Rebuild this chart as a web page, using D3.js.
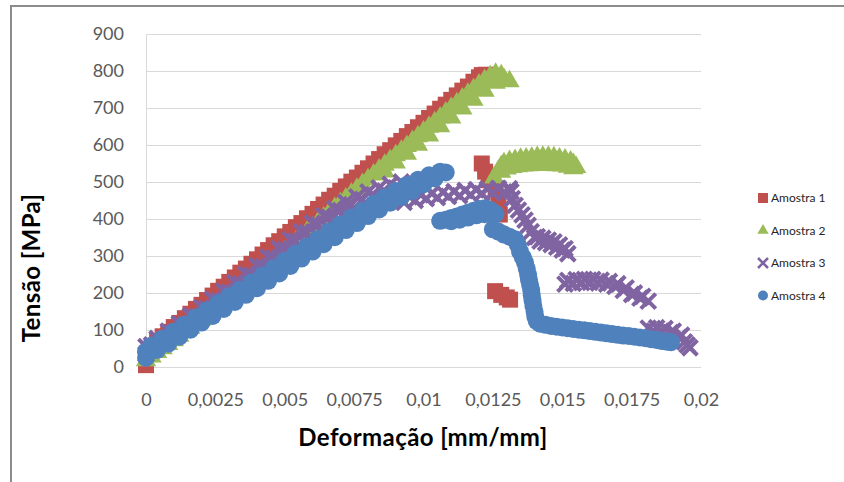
<!DOCTYPE html>
<html>
<head>
<meta charset="utf-8">
<script src="https://cdn.jsdelivr.net/npm/d3@7"></script>
<style>
  body { margin: 0; background: #fff; }
  svg { display: block; }
</style>
</head>
<body>
<svg id="chart" width="844" height="482"></svg>
<script>
// Tensile test: stress (MPa) against strain (mm/mm) for four specimens
const seriesNames = ["Amostra 1", "Amostra 2", "Amostra 3", "Amostra 4"];
const seriesColors = ["#C0504D", "#9BBB59", "#8064A2", "#4F81BD"];
const seriesSymbols = ["square", "triangle", "cross", "circle"];

const xTicks = [0, 0.0025, 0.005, 0.0075, 0.01, 0.0125, 0.015, 0.0175, 0.02];
const xTickLabels = ["0", "0,0025", "0,005", "0,0075", "0,01", "0,0125", "0,015", "0,0175", "0,02"];
const yTicks = [0, 100, 200, 300, 400, 500, 600, 700, 800, 900];

// readings as [strain, stress]
const amostra1 = [
  [0,5],[0,30],[0.0002,52],[0.0004,70],[0.0006,83],[0.0008,95],[0.001,108],[0.0012,119],
  [0.0014,132],[0.0016,144],[0.0018,157],[0.002,168],[0.0022,181],[0.0024,193],[0.0026,206],
  [0.0028,217],[0.003,230],[0.0032,242],[0.0034,255],[0.0036,266],[0.0038,279],[0.004,291],
  [0.0042,304],[0.0044,316],[0.0046,329],[0.0048,340],[0.005,353],[0.0052,365],[0.0054,378],
  [0.0056,389],[0.0058,402],[0.006,414],[0.0062,427],[0.0064,439],[0.0066,452],[0.0068,463],
  [0.007,476],[0.0072,488],[0.0074,501],[0.0076,512],[0.0078,525],[0.008,537],[0.0082,550],
  [0.0084,562],[0.0086,575],[0.0088,586],[0.009,599],[0.0092,611],[0.0094,624],[0.0096,635],
  [0.0098,648],[0.01,660],[0.0102,673],[0.0104,685],[0.0106,698],[0.0108,709],[0.011,722],
  [0.0112,734],[0.0114,747],[0.0116,758],[0.0118,771],[0.012,783],[0.0121,789],[0.01225,790],
  [0.0121,550],[0.01222,528],[0.01235,505],[0.0126,482],[0.0127,452],[0.01272,425],[0.01275,412],
  [0.01258,205],[0.0128,195],[0.013,188],[0.01312,182]
];

const amostra2 = [
  [0,18],[0.0002,28],[0.0004,40],[0.0006,50],[0.0008,62],[0.001,72],[0.0012,84],[0.0014,95],
  [0.0016,106],[0.0018,117],[0.002,128],[0.0022,140],[0.0024,151],[0.0026,163],[0.0028,175],
  [0.003,187],[0.0032,199],[0.0034,211],[0.0036,224],[0.0038,236],[0.004,249],[0.0042,261],
  [0.0044,274],[0.0046,287],[0.0048,300],[0.005,312],[0.0052,325],[0.0054,338],[0.0056,351],
  [0.0058,364],[0.006,377],[0.0062,390],[0.0064,403],[0.0066,416],[0.0068,429],[0.007,442],
  [0.0072,455],[0.0074,468],[0.0076,481],[0.0078,494],[0.008,507],[0.0082,520],[0.0084,533],
  [0.0086,546],[0.0088,559],[0.009,572],[0.0092,584],[0.0094,597],[0.0096,610],[0.0098,623],
  [0.01,636],[0.0102,649],[0.0104,661],[0.0106,674],[0.0108,687],[0.011,700],[0.0112,712],
  [0.0114,725],[0.0116,738],[0.0118,750],[0.012,763],[0.0122,775],[0.0124,785],[0.0126,792],
  [0.0128,788],
  [0.0086,528],[0.009,552],[0.0094,576],[0.0098,600],[0.0102,625],[0.0106,650],[0.011,674],
  [0.0114,698],[0.0118,722],[0.0122,746],[0.0126,768],[0.0129,778],[0.0131,772],
  [0.01255,512],[0.0127,530],[0.0128,542],[0.0129,550],[0.0131,556],[0.0133,559],[0.0135,562],
  [0.0137,563],[0.0139,565],[0.0141,567],[0.0143,568],[0.0145,568],[0.0147,566],[0.0149,563],
  [0.0151,560],[0.0153,555],[0.0154,548],[0.0155,540],
  [0.0128,527],[0.013,536],[0.0132,540],[0.0134,542],[0.0136,544],[0.0138,545],[0.014,546],
  [0.0142,546],[0.0144,546],[0.0146,546],[0.0148,545],[0.015,544],[0.0152,541],[0.0154,537]
];

const amostra3 = [
  [0,35],[0,55],[0.0002,60],[0.0004,77],[0.0006,73],[0.0008,97],[0.001,93],[0.0012,117],
  [0.0014,114],[0.0016,139],[0.0018,136],[0.002,161],[0.0022,158],[0.0024,183],[0.0026,180],
  [0.0028,205],[0.003,202],[0.0032,228],[0.0034,225],[0.0036,251],[0.0038,248],[0.004,274],
  [0.0042,271],[0.0044,297],[0.0046,295],[0.0048,320],[0.005,318],[0.0052,344],[0.0054,341],
  [0.0056,366],[0.0058,364],[0.006,389],[0.0062,385],[0.0064,409],[0.0066,405],[0.0068,428],
  [0.007,423],[0.0072,445],[0.0074,439],[0.0076,460],[0.0078,453],[0.008,473],[0.0082,465],
  [0.0084,484],[0.0086,475],[0.0088,494],[0.009,484],[0.0092,500],
  [0.0093,445],[0.0095,460],[0.0097,450],[0.0099,465],[0.0101,455],[0.0103,469],[0.0105,458],
  [0.0107,472],[0.0109,461],[0.0111,474],[0.0113,463],[0.0115,477],[0.0117,466],[0.0119,479],
  [0.0121,469],[0.0123,481],[0.0125,471],[0.0127,483],[0.0129,473],[0.0131,482],[0.01315,474],
  [0.0132,455],[0.0133,437],[0.01342,424],[0.01355,411],[0.01366,397],[0.01377,383],[0.01388,366],
  [0.014,350],[0.0141,352],[0.0142,340],[0.0143,348],[0.0144,336],[0.0145,343],[0.0146,331],
  [0.0147,338],[0.0148,324],[0.0149,330],[0.015,316],[0.0151,320],[0.0152,306],
  [0.0151,224],[0.0152,234],[0.0154,226],[0.0155,236],[0.0157,228],[0.0158,237],[0.016,229],
  [0.0161,237],[0.0163,227],[0.0164,235],[0.0166,224],[0.0167,231],[0.0169,218],[0.017,225],
  [0.0172,207],[0.0173,214],[0.0175,196],[0.0176,200],[0.0178,186],[0.0179,191],[0.0181,178],
  [0.0181,105],[0.0183,97],[0.0184,106],[0.0186,96],[0.0187,104],[0.0189,93],[0.019,97],
  [0.0192,80],[0.0193,86],[0.0194,68],[0.0195,60],[0.0196,52]
];

const amostra4 = [
  [0,25],[0,42],[0.0002,58],[0.0004,46],[0.0006,77],[0.0008,63],[0.001,96],[0.0012,82],
  [0.0014,115],[0.0016,101],[0.0018,134],[0.002,120],[0.0022,153],[0.0024,138],[0.0026,172],
  [0.0028,157],[0.003,191],[0.0032,176],[0.0034,209],[0.0036,195],[0.0038,228],[0.004,213],
  [0.0042,247],[0.0044,233],[0.0046,267],[0.0048,253],[0.005,287],[0.0052,273],[0.0054,307],
  [0.0056,293],[0.0058,326],[0.006,312],[0.0062,346],[0.0064,332],[0.0066,366],[0.0068,351],
  [0.007,385],[0.0072,370],[0.0074,404],[0.0076,389],[0.0078,422],[0.008,408],[0.0082,441],
  [0.0084,426],[0.0086,459],[0.0088,444],[0.009,476],[0.0092,460],[0.0094,492],[0.0096,476],
  [0.0098,506],[0.01,494],[0.0102,518],[0.0104,510],[0.0106,528],[0.0108,526],
  [0.0106,395],[0.0108,398],[0.011,403],[0.0112,407],[0.0114,412],[0.0116,417],[0.0118,422],
  [0.012,427],[0.0122,429],[0.0124,425],[0.0126,414],
  [0.011,394],[0.0113,398],[0.0116,404],[0.0119,410],[0.0122,413],
  [0.0125,372],[0.0127,366],[0.0129,358],[0.0131,352],[0.0133,345],[0.0134,330],[0.01348,312],
  [0.01358,296],[0.01366,282],[0.01372,266],[0.01377,250],[0.0138,236],[0.01384,222],[0.01388,208],
  [0.0139,194],[0.01393,180],[0.01396,165],[0.014,150],[0.01403,136],[0.01408,124],[0.0142,117],
  [0.0144,114],[0.0146,111],[0.0148,109],[0.015,107],[0.0152,105],[0.0154,103],[0.0156,101],
  [0.0158,99],[0.016,97],[0.0162,95],[0.0164,93],[0.0166,91],[0.0168,89],[0.017,87],[0.0172,85],
  [0.0174,84],[0.0176,82],[0.0178,80],[0.018,78],[0.0182,75],[0.0184,73],[0.0186,70],[0.0188,68],
  [0.01892,67]
];

const allSeries = [amostra1, amostra2, amostra3, amostra4];

const font = "Lato, 'Open Sans', sans-serif";
const svg = d3.select("#chart");

// outer frame (left and top edges)
svg.append("path")
  .attr("d", "M11,482V6H844")
  .attr("fill", "none")
  .attr("stroke", "#8c8c8c")
  .attr("stroke-width", 2);

const x = d3.scaleLinear().domain([0, 0.02]).range([146, 701]);
const y = d3.scaleLinear().domain([0, 900]).range([367, 34]);

// y axis with horizontal gridlines
const yAxis = svg.append("g")
  .attr("transform", "translate(146,0)")
  .call(d3.axisLeft(y).tickValues(yTicks).tickSize(-555).tickPadding(22).tickFormat(d3.format("d")));
yAxis.select(".domain").attr("stroke", "#d9d9d9");
yAxis.selectAll(".tick line").attr("stroke", "#d9d9d9");
yAxis.selectAll("text")
  .attr("fill", "#595959")
  .style("font-family", font)
  .style("font-size", "18px");

// x axis labels
const xAxis = svg.append("g")
  .attr("transform", "translate(0,367)")
  .call(d3.axisBottom(x).tickValues(xTicks).tickSize(0).tickPadding(26)
    .tickFormat((d, i) => xTickLabels[i]));
xAxis.select(".domain").remove();
xAxis.selectAll("text")
  .attr("fill", "#595959")
  .style("font-family", font)
  .style("font-size", "18px");

// axis titles
svg.append("text")
  .attr("x", 423).attr("y", 446)
  .attr("text-anchor", "middle")
  .style("font-family", font).style("font-size", "24px").style("font-weight", "bold")
  .style("letter-spacing", "0.4px")
  .attr("fill", "#000")
  .text("Deformação [mm/mm]");

svg.append("text")
  .attr("transform", "translate(40,268) rotate(-90)")
  .attr("text-anchor", "middle")
  .style("font-family", font).style("font-size", "24px").style("font-weight", "bold")
  .style("letter-spacing", "0.4px")
  .attr("fill", "#000")
  .text("Tensão [MPa]");

// marker shapes
function markerPath(kind, s) {
  if (kind === "square") return d3.symbol(d3.symbolSquare, s * s)();
  if (kind === "circle") return d3.symbol(d3.symbolCircle, Math.PI * s * s / 4)();
  if (kind === "triangle") return d3.symbol(d3.symbolTriangle, s * s * 0.55)();
  const h = s / 2;
  return `M${-h},${-h}L${h},${h}M${-h},${h}L${h},${-h}`;
}
const markerSize = [16, 18, 15, 18];

const plot = svg.append("g");
allSeries.forEach((data, si) => {
  const kind = seriesSymbols[si];
  plot.append("g")
    .selectAll("path")
    .data(data)
    .join("path")
    .attr("transform", d => `translate(${x(d[0])},${y(d[1])})`)
    .attr("d", markerPath(kind, markerSize[si]))
    .attr("fill", kind === "cross" ? "none" : seriesColors[si])
    .attr("stroke", kind === "cross" ? seriesColors[si] : "none")
    .attr("stroke-width", kind === "cross" ? 4 : 0);
});

// legend
const legendY = [198, 230.5, 263, 295.5];
const legend = svg.append("g");
seriesNames.forEach((name, i) => {
  const kind = seriesSymbols[i];
  const gy = legendY[i];
  legend.append("path")
    .attr("transform", `translate(763,${gy})`)
    .attr("d", markerPath(kind, 10))
    .attr("fill", kind === "cross" ? "none" : seriesColors[i])
    .attr("stroke", kind === "cross" ? seriesColors[i] : "none")
    .attr("stroke-width", kind === "cross" ? 2.5 : 0);
  legend.append("text")
    .attr("x", 771).attr("y", gy)
    .attr("dy", "0.35em")
    .style("font-family", font).style("font-size", "12px")
    .attr("fill", "#262626")
    .text(name);
});
</script>
</body>
</html>
